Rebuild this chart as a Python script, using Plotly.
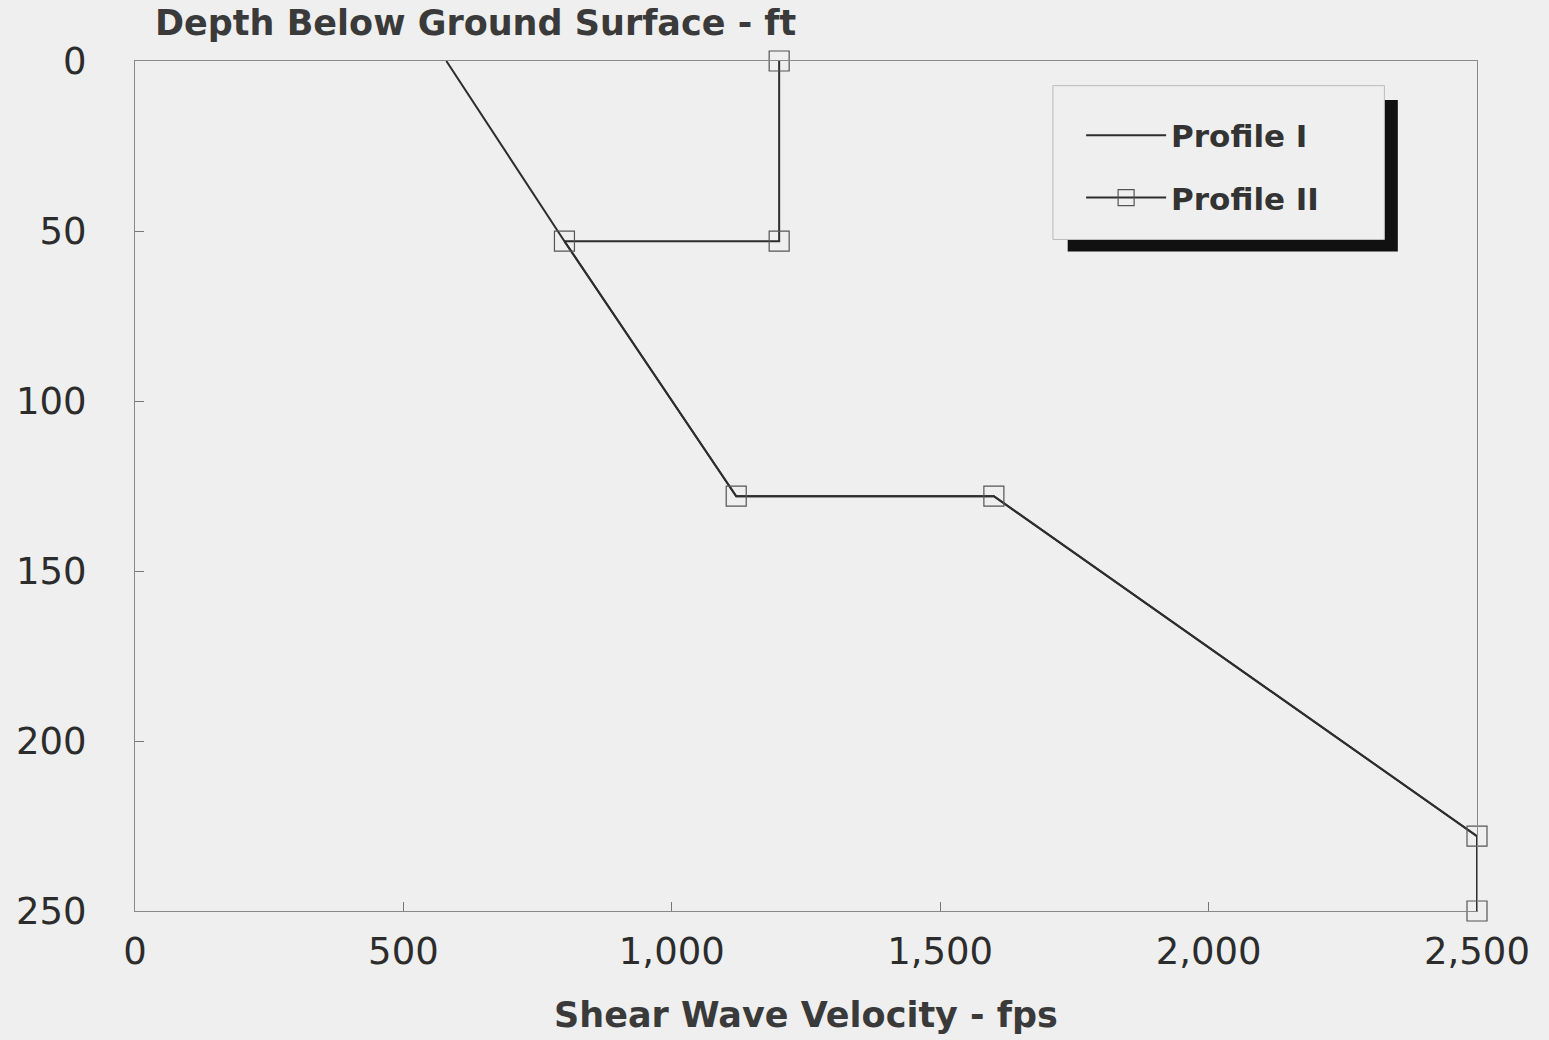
import plotly.graph_objects as go

# Data
profile1_velocity = [580, 800, 1120, 1600, 2500, 2500]
profile1_depth = [0, 53, 128, 128, 228, 250]

profile2_velocity = [1200, 1200, 800, 1120, 1600, 2500, 2500]
profile2_depth = [0, 53, 53, 128, 128, 228, 250]

x_ticks = [0, 500, 1000, 1500, 2000, 2500]
y_ticks = [0, 50, 100, 150, 200, 250]

BG = "#efefef"
INK = "#2e2e2e"
FONT = "DejaVu Sans"

fig = go.Figure()
fig.add_trace(go.Scatter(
    x=profile1_velocity, y=profile1_depth, mode="lines", name="Profile I",
    line=dict(color=INK, width=2), legendgroup="a", cliponaxis=False))
fig.add_trace(go.Scatter(
    x=profile2_velocity, y=profile2_depth, mode="lines+markers", name="Profile II",
    line=dict(color=INK, width=2), legendgroup="b", cliponaxis=False,
    marker=dict(symbol="square-open", size=20, color="#555",
                line=dict(width=1.2, color="#555"))))

# legend shadow and box
fig.add_shape(type="rect", xref="paper", yref="paper",
              x0=0.695, x1=0.941, y0=0.776, y1=0.954,
              fillcolor="#111", line=dict(width=0), layer="above")
fig.add_shape(type="rect", xref="paper", yref="paper",
              x0=0.684, x1=0.931, y0=0.790, y1=0.971,
              fillcolor=BG, line=dict(width=1, color="#bbb"), layer="above")

fig.add_annotation(text="<b>Depth Below Ground Surface - ft</b>", xref="paper", yref="paper",
                   x=0.0134, y=1.0, xanchor="left", yanchor="bottom", yshift=16,
                   showarrow=False, font=dict(family=FONT, size=35, color="#3a3a3a"))

fig.update_layout(
    width=1549, height=1040,
    paper_bgcolor=BG, plot_bgcolor=BG,
    margin=dict(l=135, r=72, t=61, b=127),
    font=dict(family=FONT, size=37, color="#2c2c2c"),
    showlegend=True,
    legend=dict(x=0.705, y=0.944, xanchor="left", yanchor="top",
                bgcolor="rgba(0,0,0,0)", traceorder="grouped", tracegroupgap=19,
                font=dict(family=FONT, size=31, color="#333", weight="bold"),
                itemwidth=80),
    xaxis=dict(range=[0, 2500], tickvals=x_ticks, tickformat=",d",
               ticks="inside", ticklen=9, tickcolor="#777",
               showline=True, linecolor="#888", linewidth=1, mirror=True,
               showgrid=False, zeroline=False, ticklabelstandoff=8,
               title=dict(text="<b>Shear Wave Velocity - fps</b>", standoff=30,
                          font=dict(family=FONT, size=35, color="#3a3a3a"))),
    yaxis=dict(range=[250, 0], tickvals=y_ticks,
               ticks="inside", ticklen=9, tickcolor="#777",
               showline=True, linecolor="#888", linewidth=1, mirror=True,
               showgrid=False, zeroline=False, ticklabelstandoff=40),
)

fig.write_html("out.html")
